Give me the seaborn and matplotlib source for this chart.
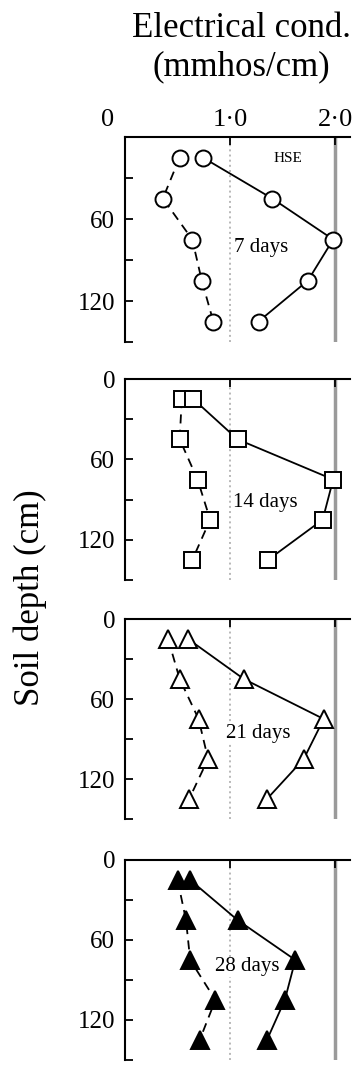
import matplotlib
matplotlib.use("Agg")
import matplotlib.pyplot as plt
import matplotlib.transforms as mtransforms
import seaborn as sns
import pandas as pd

# ---------------- data ----------------
depth = [15, 45, 75, 105, 135]
day_labels = ["7 days", "14 days", "21 days", "28 days"]
dashed_ec = [
    [0.52, 0.36, 0.64, 0.73, 0.84],
    [0.54, 0.52, 0.69, 0.81, 0.64],
    [0.41, 0.52, 0.70, 0.79, 0.61],
    [0.50, 0.58, 0.62, 0.86, 0.71],
]
solid_ec = [
    [0.74, 1.40, 1.98, 1.74, 1.27],
    [0.65, 1.07, 1.98, 1.88, 1.36],
    [0.60, 1.13, 1.89, 1.70, 1.35],
    [0.62, 1.07, 1.62, 1.52, 1.35],
]
x_ticks = [0, 1, 2]
x_ticklabels = ["0", "1·0", "2·0"]
y_ticks = [0, 30, 60, 90, 120, 150]
y_ticklabels = ["0", "", "60", "", "120", ""]

# ---------------- style ----------------
sns.set_style("ticks")
plt.rcParams["font.family"] = ["Liberation Serif", "DejaVu Serif"]
plt.rcParams["text.color"] = "black"
plt.rcParams["axes.labelcolor"] = "black"
plt.rcParams["xtick.color"] = "black"
plt.rcParams["ytick.color"] = "black"

W, H = 359, 1069
fig = plt.figure(figsize=(W / 100, H / 100), dpi=100)

panel_px = [(137, 342), (379, 580), (619, 819), (860, 1060)]
left_px, right_px = 125, 350
markers = ["o", "s", "^", "^"]
facecolors = ["white", "white", "white", "black"]
msizes = [11.5, 11, 12.5, 12.5]
label_xy = [(1.29, 81), (1.33, 92), (1.27, 86), (1.16, 80)]

for i in range(4):
    top, bot = panel_px[i]
    ax = fig.add_axes([left_px / W, 1 - bot / H, (right_px - left_px) / W, (bot - top) / H])
    common = dict(orient="y", ax=ax, color="black", marker=markers[i],
                  markersize=msizes[i], markerfacecolor=facecolors[i],
                  markeredgecolor="black", markeredgewidth=1.4, linewidth=1.3)
    sns.lineplot(data=pd.DataFrame({"ec": dashed_ec[i], "depth": depth}),
                 x="ec", y="depth", linestyle=(0, (5, 3.5)), **common)
    sns.lineplot(data=pd.DataFrame({"ec": solid_ec[i], "depth": depth}),
                 x="ec", y="depth", linestyle="-", **common)

    ax.set_xlim(0, 2.14)
    ax.set_ylim(150, 0)
    ax.set_xlabel("")
    ax.set_ylabel("")
    ax.xaxis.tick_top()
    ax.set_xticks(x_ticks)
    ax.set_yticks(y_ticks)
    if i == 0:
        ax.set_xticklabels(x_ticklabels)
        ax.set_yticklabels(["", "", "60", "", "120", ""])
    else:
        ax.set_xticklabels([])
        ax.set_yticklabels(y_ticklabels)
    for s in ["right", "bottom"]:
        ax.spines[s].set_visible(False)
    for s in ["left", "top"]:
        ax.spines[s].set_linewidth(1.5)
        ax.spines[s].set_color("black")
    ax.tick_params(axis="both", direction="in", length=6, width=1.3, colors="black")
    ax.tick_params(axis="y", labelsize=18, pad=7)
    ax.tick_params(axis="x", labelsize=19, pad=4, top=True, bottom=False,
                   labeltop=(i == 0), labelbottom=False)

    ax.grid(axis="x", color="#b8b8b8", linewidth=1.4, linestyle=":")
    ax.grid(axis="y", visible=False)
    gl = ax.get_xgridlines()
    if len(gl) >= 3:
        gl[2].set_linestyle("-")
        gl[2].set_color("#9a9a9a")
        gl[2].set_linewidth(2.5)

    if i == 0:
        for lab in ax.get_xticklabels():
            if lab.get_text() == "0":
                lab.set_transform(lab.get_transform() +
                                  mtransforms.ScaledTranslation(-0.17, 0, fig.dpi_scale_trans))
        ax.text(1.55, 16, "HSE", fontsize=11, ha="center", va="center")

    lx, ly = label_xy[i]
    ax.text(lx, ly, day_labels[i], fontsize=15, ha="center", va="center",
            bbox=dict(facecolor="white", edgecolor="none", pad=0.5))

fig.text(241 / W, 1 - 37 / H, "Electrical cond.", fontsize=25, ha="center", va="baseline")
fig.text(241 / W, 1 - 75 / H, "(mmhos/cm)", fontsize=25, ha="center", va="baseline")
fig.text(30 / W, 1 - 598 / H, "Soil depth (cm)", fontsize=25, rotation=90,
         ha="center", va="center")

fig.savefig("out.png", dpi=100)
